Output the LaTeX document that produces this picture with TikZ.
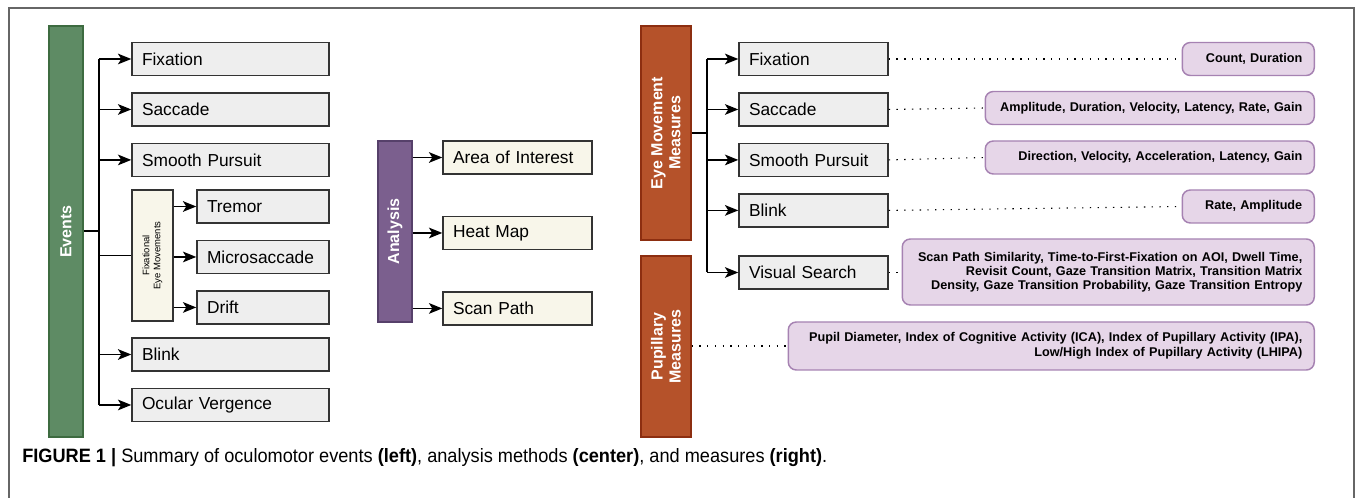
\documentclass[tikz,border=0pt]{standalone}
\usepackage{fontspec}
\setmainfont{Liberation Sans}
\newfontfamily\capfont[FakeStretch=0.94]{Liberation Sans}
\usetikzlibrary{arrows, positioning, shapes.geometric, arrows.meta}
\usepackage{color}

\definecolor{evgreen}{HTML}{5E8B64}
\definecolor{evgreenline}{HTML}{3D6B40}
\definecolor{anpurple}{HTML}{7B5F8E}
\definecolor{anpurpleline}{HTML}{56406A}
\definecolor{msrust}{HTML}{B5522A}
\definecolor{msrustline}{HTML}{8C2E10}
\definecolor{boxgray}{HTML}{EEEEEE}
\definecolor{boxbeige}{HTML}{F8F6EA}
\definecolor{mslilac}{HTML}{E6D6E8}
\definecolor{mslilacline}{HTML}{A682B2}
\definecolor{framegray}{HTML}{666666}

\tikzset{
	bar/.style={rectangle, draw, line width=1pt, minimum width=25.5pt},
	barlabel/.style={rotate=90, text=white, font=\bfseries\fontsize{12}{13.5}\selectfont, align=center},
	evbox/.style={rectangle, draw=black!80, fill=boxgray, line width=1.1pt, minimum height=24.75pt,
		inner xsep=7.5pt, inner ysep=0pt, align=left, font=\fontsize{13}{15}\selectfont},
	anbox/.style={evbox, fill=boxbeige, text width=96.75pt},
	msbox/.style={rectangle, rounded corners=6pt, draw=mslilacline, fill=mslilac, line width=1.1pt,
		minimum height=24.75pt, inner xsep=9pt, inner ysep=0pt, align=right,
		font=\bfseries\fontsize{9.5}{10.6}\selectfont, anchor=east},
	dots/.style={line width=0.8pt, dash pattern=on 1pt off 4.8pt},
	trunk/.style={line width=1.5pt},
	branch/.style={->, line width=1.1pt}
}

\begin{document}
\begin{tikzpicture}[auto, x=0.75pt, y=-0.75pt, node distance=12pt, >={Stealth[length=10pt,width=8pt,inset=2.5pt]}]
	\useasboundingbox (0,0) rectangle (1355,498);
	\draw[framegray, line width=1.1pt] (9,498) -- (9,8) -- (1354,8) -- (1354,498);

	% events
	\node[bar, draw=evgreenline, fill=evgreen, minimum height=308.25pt] (events) at (66,231.5) {};
	\node[barlabel] (eventslbl) at (events) {Events};
	\coordinate (evtrunk) at (99,231);

	\node[evbox, text width=132.75pt] (fix) at (230.5,59) {Fixation};
	\node[evbox, text width=132.75pt, below=of fix] (sac) {Saccade};
	\node[evbox, text width=132.75pt, below=of sac] (smp) {Smooth Pursuit};

	\node[rectangle, draw=black!80, fill=boxbeige, line width=1.1pt, minimum width=30.75pt, minimum height=98.25pt] (fixgrp) at (152.5,255.5) {};
	\node[rotate=90, align=center, font=\fontsize{7.1}{8.25}\selectfont] (fixgrplbl) at (fixgrp) {Fixational\\Eye Movements};

	\node[evbox, text width=84pt] (tremor) at (263,206.5) {Tremor};
	\node[evbox, text width=84pt, below=of tremor] (micro) {Microsaccade};
	\node[evbox, text width=84pt, below=of micro] (drift) {Drift};

	\node[evbox, text width=132.75pt] (blink) at (230.5,354.5) {Blink};
	\node[evbox, text width=132.75pt, below=of blink] (ocv) {Ocular Vergence};

	\draw[trunk] (events.east |- evtrunk) -- (evtrunk);
	\draw[trunk] (fix.west -| evtrunk) -- (ocv.west -| evtrunk);
	\foreach \n in {fix, sac, smp, blink, ocv}
		\draw[branch] (\n.west -| evtrunk) -- (\n.west);
	\draw[line width=1.1pt] (fixgrp.west -| evtrunk) -- (fixgrp.west);
	\foreach \n in {tremor, micro, drift}
		\draw[branch] (\n.west -| fixgrp.east) -- (\n.west);

	% analysis
	\node[bar, draw=anpurpleline, fill=anpurple, minimum height=135.75pt] (analysis) at (395,231.5) {};
	\node[barlabel] (analysislbl) at (analysis) {Analysis};

	\node[anbox] (aoi) at (517.5,157.5) {Area of Interest};
	\node[anbox, below=30.75pt of aoi] (heat) {Heat Map};
	\node[anbox, below=30.75pt of heat] (scan) {Scan Path};

	\foreach \n in {aoi, heat, scan}
		\draw[branch] (\n.west -| analysis.east) -- (\n.west);

	% measures
	\node[bar, draw=msrustline, fill=msrust, minimum width=37.5pt, minimum height=160.5pt] (eyemeas) at (666,133) {};
	\node[barlabel] (eyemeaslbl) at (eyemeas) {Eye Movement\\Measures};
	\node[bar, draw=msrustline, fill=msrust, minimum width=37.5pt, minimum height=135.75pt] (pupmeas) at (666,346.5) {};
	\node[barlabel] (pupmeaslbl) at (pupmeas) {Pupillary\\Measures};
	\coordinate (mstrunk) at (707,133);

	\node[anbox, fill=boxgray] (rfix) at (813.5,59) {Fixation};
	\node[anbox, fill=boxgray, below=of rfix] (rsac) {Saccade};
	\node[anbox, fill=boxgray, below=of rsac] (rsmp) {Smooth Pursuit};
	\node[anbox, fill=boxgray, below=of rsmp] (rblink) {Blink};
	\node[anbox, fill=boxgray] (rvs) at (813.5,272.5) {Visual Search};

	\draw[trunk] (eyemeas.east |- mstrunk) -- (mstrunk);
	\draw[trunk] (rfix.west -| mstrunk) -- (rvs.west -| mstrunk);
	\foreach \n in {rfix, rsac, rsmp, rblink, rvs}
		\draw[branch] (\n.west -| mstrunk) -- (\n.west);

	\node[msbox, text width=81pt] (mfix) at (1315,59) {Count, Duration};
	\node[msbox, text width=228.75pt] (msac) at (1315,108) {Amplitude, Duration, Velocity, Latency, Rate, Gain};
	\node[msbox, text width=228.75pt] (msmp) at (1315,157.5) {Direction, Velocity, Acceleration, Latency, Gain};
	\node[msbox, text width=81pt] (mblink) at (1315,206.5) {Rate, Amplitude};
	\node[msbox, text width=291pt, minimum height=49.5pt] (mvs) at (1315,272) {Scan Path Similarity, Time-to-First-Fixation on AOI, Dwell Time,\\Revisit Count, Gaze Transition Matrix, Transition Matrix\\Density, Gaze Transition Probability, Gaze Transition Entropy};
	\node[msbox, text width=376.5pt, minimum height=36pt, font=\bfseries\fontsize{9.5}{11.5}\selectfont] (mpup) at (1315,346) {Pupil Diameter, Index of Cognitive Activity (ICA), Index of Pupillary Activity (IPA),\\Low/High Index of Pupillary Activity (LHIPA)};

	\draw[dots] (rfix.east) -- (mfix.west);
	\draw[dots] (rsac.east) -- (msac.west);
	\draw[dots] (rsmp.east) -- (msmp.west);
	\draw[dots] (rblink.east) -- (mblink.west);
	\draw[dots] (rvs.east) -- (rvs.east -| mvs.west);
	\draw[dots] (pupmeas.east |- mpup.west) -- (mpup.west);

	% caption
	\node[anchor=west, inner sep=0pt, font=\capfont\fontsize{14.5}{16}\selectfont] (caption) at (22,458)
		{\textbf{FIGURE 1 |} Summary of oculomotor events \textbf{(left)}, analysis methods \textbf{(center)}, and measures \textbf{(right)}.};
\end{tikzpicture}
\end{document}
